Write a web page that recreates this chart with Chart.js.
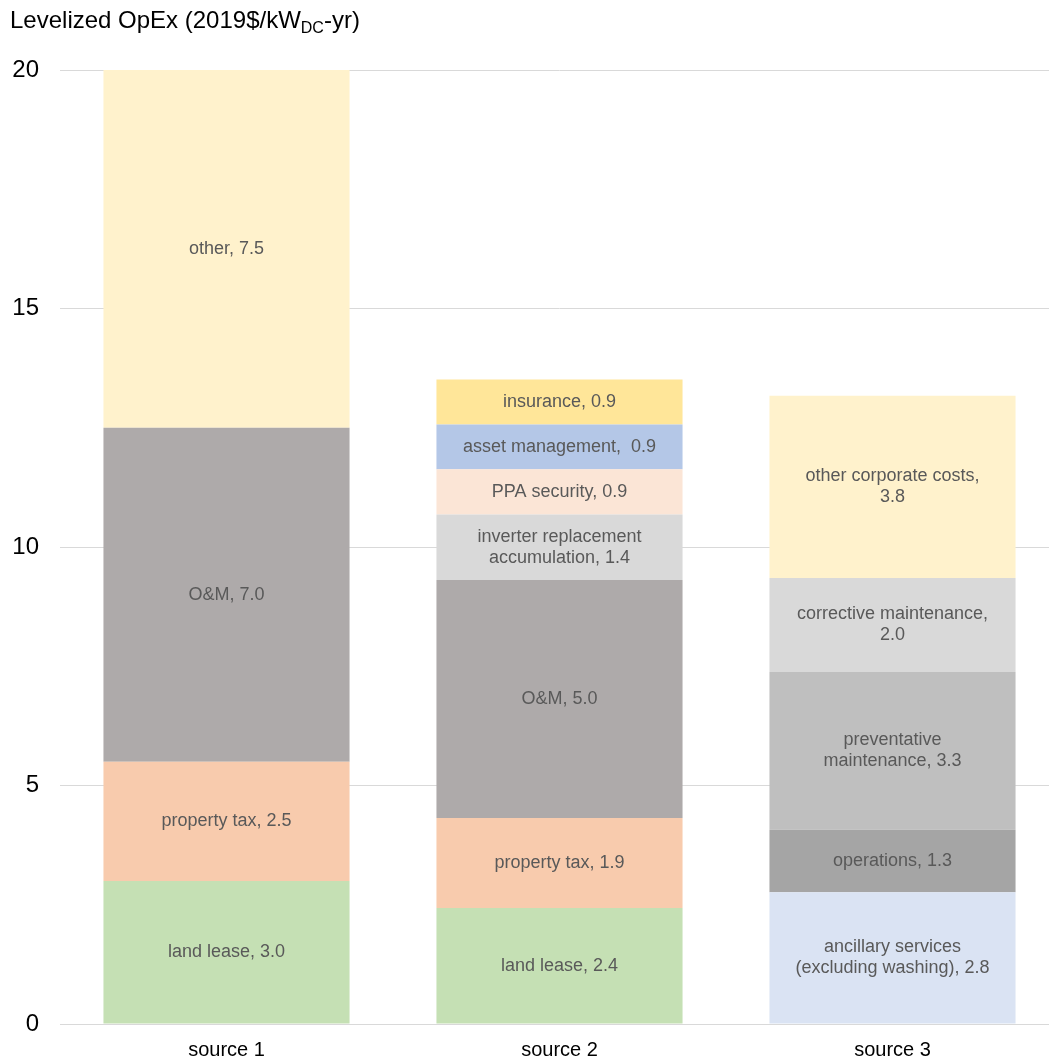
<!DOCTYPE html>
<html>
<head>
<meta charset="utf-8">
<script src="https://cdn.jsdelivr.net/npm/chart.js@4/dist/chart.umd.min.js"></script>
<style>
html,body{margin:0;padding:0;background:#fff;overflow:hidden;}
#wrap{position:relative;width:1062px;height:1061px;}
</style>
</head>
<body>
<div id="wrap"><canvas id="c"></canvas></div>
<script>
const categories = ['source 1', 'source 2', 'source 3'];
const yTicks = [0, 5, 10, 15, 20];
const titleMain = 'Levelized OpEx (2019$/kW';
const titleSub = 'DC';
const titleEnd = '-yr)';

const source1Values = [3.0, 2.5, 7.0, 7.5];
const source1Labels = ['land lease, 3.0', 'property tax, 2.5', 'O&M, 7.0', 'other, 7.5'];
const source2Values = [2.43, 1.89, 4.99, 1.37, 0.95, 0.94, 0.94];
const source2Labels = ['land lease, 2.4', 'property tax, 1.9', 'O&M, 5.0', 'inverter replacement\naccumulation, 1.4', 'PPA security, 0.9', 'asset management,  0.9', 'insurance, 0.9'];
const source3Values = [2.76, 1.31, 3.31, 1.97, 3.82];
const source3Labels = ['ancillary services\n(excluding washing), 2.8', 'operations, 1.3', 'preventative\nmaintenance, 3.3', 'corrective maintenance,\n2.0', 'other corporate costs,\n3.8'];

const source1Colors = ['#c5e0b4', '#f8cbad', '#aeaaaa', '#fff2cc'];
const source2Colors = ['#c5e0b4', '#f8cbad', '#aeaaaa', '#d9d9d9', '#fbe5d6', '#b4c7e7', '#ffe699'];
const source3Colors = ['#dae3f3', '#a5a5a5', '#bfbfbf', '#d9d9d9', '#fff2cc'];

const FONT = '"Liberation Sans", Arial, sans-serif';

const datasets = [];
[[source1Values, source1Labels, source1Colors], [source2Values, source2Labels, source2Colors], [source3Values, source3Labels, source3Colors]].forEach((grp, ci) => {
  grp[0].forEach((v, i) => {
    const d = categories.map((_, k) => k === ci ? v : null);
    datasets.push({label: grp[1][i], data: d, backgroundColor: grp[2][i], borderWidth: 0, stack: 's', segLabel: grp[1][i]});
  });
});

const labelPlugin = {
  id: 'segLabels',
  afterDatasetsDraw(chart) {
    const ctx = chart.ctx;
    ctx.save();
    ctx.font = '18px ' + FONT;
    ctx.fillStyle = '#595959';
    ctx.textAlign = 'center';
    ctx.textBaseline = 'middle';
    chart.data.datasets.forEach((ds, di) => {
      const meta = chart.getDatasetMeta(di);
      meta.data.forEach((bar, idx) => {
        if (ds.data[idx] == null) return;
        const cy = (bar.y + bar.base) / 2;
        const lines = ds.segLabel.split('\n');
        const lh = 21;
        lines.forEach((ln, li) => {
          ctx.fillText(ln, bar.x, cy + (li - (lines.length - 1) / 2) * lh);
        });
      });
    });
    ctx.restore();
  }
};

const titlePlugin = {
  id: 'titleSub',
  afterDraw(chart) {
    const ctx = chart.ctx;
    ctx.save();
    ctx.fillStyle = '#000';
    ctx.textBaseline = 'alphabetic';
    ctx.textAlign = 'left';
    let x = 10, y = 28;
    ctx.font = '24px ' + FONT;
    ctx.fillText(titleMain, x, y);
    x += ctx.measureText(titleMain).width;
    ctx.font = '16px ' + FONT;
    ctx.fillText(titleSub, x, y + 5);
    x += ctx.measureText(titleSub).width;
    ctx.font = '24px ' + FONT;
    ctx.fillText(titleEnd, x, y);
    ctx.restore();
  }
};

new Chart(document.getElementById('c'), {
  type: 'bar',
  data: {labels: categories, datasets},
  options: {
    responsive: true,
    maintainAspectRatio: false,
    animation: false,
    layout: {padding: {top: 70, right: 3, left: 0, bottom: 0}},
    plugins: {legend: {display: false}, tooltip: {enabled: false}},
    datasets: {bar: {barPercentage: 0.739, categoryPercentage: 1}},
    scales: {
      x: {
        stacked: true,
        grid: {display: false},
        border: {display: true, color: '#d9d9d9', width: 1},
        ticks: {color: '#000', font: {family: FONT, size: 20}, padding: 6},
        afterFit(s) { s.height = 37; }
      },
      y: {
        stacked: true,
        min: 0, max: 20,
        afterBuildTicks(s) { s.ticks = yTicks.map(v => ({value: v})); },
        grid: {color: '#d9d9d9', lineWidth: 1, drawTicks: false},
        border: {display: false},
        ticks: {color: '#000', font: {family: FONT, size: 24}, padding: 21},
        afterFit(s) { s.width = 60; }
      }
    }
  },
  plugins: [labelPlugin, titlePlugin]
});
</script>
</body>
</html>
